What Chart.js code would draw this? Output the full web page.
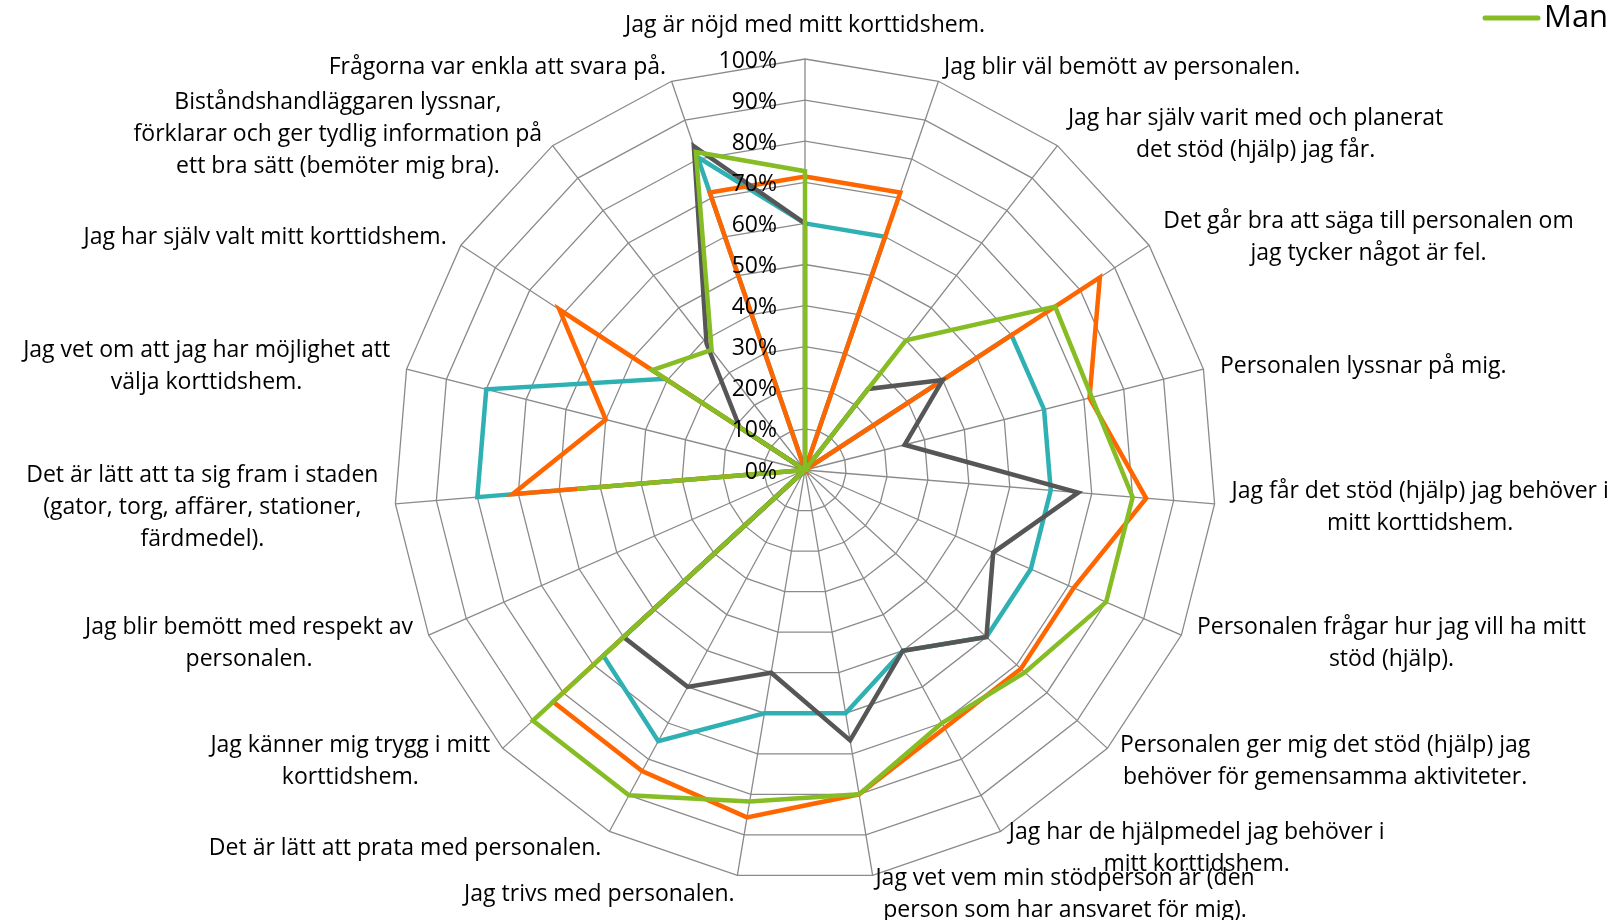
<!DOCTYPE html>
<html>
<head>
<meta charset="utf-8">
<script src="https://cdn.jsdelivr.net/npm/chart.js@4.4.1/dist/chart.umd.min.js"></script>
<style>
  html, body { margin: 0; padding: 0; background: #ffffff; }
  #wrap { width: 1621px; height: 920px; }
</style>
</head>
<body>
<div id="wrap"><canvas id="c" width="1621" height="920"></canvas></div>
<script>
// ---- DATA ----
const categories = [
  ["Jag är nöjd med mitt korttidshem."],
  ["Jag blir väl bemött av personalen."],
  ["Jag har själv varit med och planerat", "det stöd (hjälp) jag får."],
  ["Det går bra att säga till personalen om", "jag tycker något är fel."],
  ["Personalen lyssnar på mig."],
  ["Jag får det stöd (hjälp) jag behöver i", "mitt korttidshem."],
  ["Personalen frågar hur jag vill ha mitt", "stöd (hjälp)."],
  ["Personalen ger mig det stöd (hjälp) jag", "behöver för gemensamma aktiviteter."],
  ["Jag har de hjälpmedel jag behöver i", "mitt korttidshem."],
  ["Jag vet vem min stödperson är (den", "person som har ansvaret för mig)."],
  ["Jag trivs med personalen."],
  ["Det är lätt att prata med personalen."],
  ["Jag känner mig trygg i mitt", "korttidshem."],
  ["Jag blir bemött med respekt av", "personalen."],
  ["Det är lätt att ta sig fram i staden", "(gator, torg, affärer, stationer,", "färdmedel)."],
  ["Jag vet om att jag har möjlighet att", "välja korttidshem."],
  ["Jag har själv valt mitt korttidshem."],
  ["Biståndshandläggaren lyssnar,", "förklarar och ger tydlig information på", "ett bra sätt (bemöter mig bra)."],
  ["Frågorna var enkla att svara på."]
];

const seriesNames = ["Man", "Totalt", "Kvinna", "Föregående år"];

const manValues    = [72.7, 0, 40, 72.7, 72, 80, 80, 72.7, 70, 80, 81.8, 90, 90, 0, 55.6, 0, 44.4, 37, 81.8];
const grayValues   = [60, 0, 25, 40, 25, 66.7, 50, 60, 50, 66.7, 50, 60, 60, 0, 0, 0, 19, 39, 83.3];
const orangeValues = [71.4, 71.4, 0, 85.7, 71.4, 83.3, 71.4, 71.4, 71.4, 80, 85.7, 83.3, 83.3, 0, 71.4, 50, 71.4, 0, 71.4];
const tealValues   = [60, 60, 0, 60, 60, 60, 60, 60, 50, 60, 60, 75, 66.7, 0, 80, 80, 40.6, 0, 80.5];

const tickValues = [0, 10, 20, 30, 40, 50, 60, 70, 80, 90, 100];
const tickLabels = tickValues.map(v => v + "%");

// ---- STYLE ----
const FONT = "'Open Sans'";
const FS = 23;
const LH = 32;

const labelPlugin = {
  id: 'excelLabels',
  afterDatasetsDraw(chart) {
    const s = chart.scales.r;
    const ctx = chart.ctx;
    const n = chart.data.labels.length;
    ctx.save();
    ctx.fillStyle = '#000';
    ctx.font = FS + 'px ' + FONT;
    ctx.textBaseline = 'middle';
    // tick labels
    ctx.textAlign = 'right';
    s.ticks.forEach((t, k) => {
      const d = s.getDistanceFromCenterForValue(t.value);
      ctx.fillText(tickLabels[k], s.xCenter - 28, s.yCenter - d + 2);
    });
    // category labels
    ctx.textAlign = 'center';
    chart.data.labels.forEach((lab, i) => {
      const lines = Array.isArray(lab) ? lab : [lab];
      const p = s.getPointPosition(i, s.drawingArea + 17);
      const angle = i * 360 / n;
      const w = Math.max(...lines.map(l => ctx.measureText(l).width));
      const h = lines.length * LH;
      let cx, cy;
      if (i === 0) { cx = p.x; cy = p.y - h / 2 - 3; }
      else if (angle < 180) { cx = p.x + w / 2; cy = p.y; }
      else { cx = p.x - w / 2; cy = p.y; }
      lines.forEach((l, k) => ctx.fillText(l, cx, cy - h / 2 + LH * (k + 0.5) + 2));
    });
    // legend (only first series visible, as in the reference)
    const ds = chart.data.datasets[0];
    ctx.strokeStyle = ds.borderColor;
    ctx.lineWidth = 5;
    ctx.lineCap = 'round';
    ctx.beginPath();
    ctx.moveTo(1485, 18);
    ctx.lineTo(1538, 18);
    ctx.stroke();
    ctx.font = '31px ' + FONT;
    ctx.textAlign = 'left';
    ctx.fillText(ds.label, 1544, 18);
    ctx.restore();
  }
};

new Chart(document.getElementById('c'), {
  type: 'radar',
  data: {
    labels: categories,
    datasets: [
      { label: seriesNames[0], data: manValues,    borderColor: '#86BC24', order: 1 },
      { label: seriesNames[1], data: grayValues,   borderColor: '#565656', order: 2 },
      { label: seriesNames[2], data: orangeValues, borderColor: '#FF6600', order: 3 },
      { label: seriesNames[3], data: tealValues,   borderColor: '#2FB0B3', order: 4 }
    ].map(d => Object.assign(d, {
      fill: false, borderWidth: 4.5, pointRadius: 0, pointHoverRadius: 0,
      tension: 0, borderJoinStyle: 'miter', backgroundColor: 'transparent'
    }))
  },
  options: {
    responsive: false,
    animation: false,
    devicePixelRatio: 1,
    layout: { padding: { left: 0, right: 11, top: 59, bottom: 39 } },
    plugins: { legend: { display: false }, tooltip: { enabled: false } },
    scales: {
      r: {
        min: 0, max: 100,
        ticks: { display: false, stepSize: 10 },
        pointLabels: { display: false },
        grid: { color: '#8a8a8a', lineWidth: 1.3, circular: false },
        angleLines: { color: '#8a8a8a', lineWidth: 1.3 }
      }
    }
  },
  plugins: [labelPlugin]
});
</script>
</body>
</html>
